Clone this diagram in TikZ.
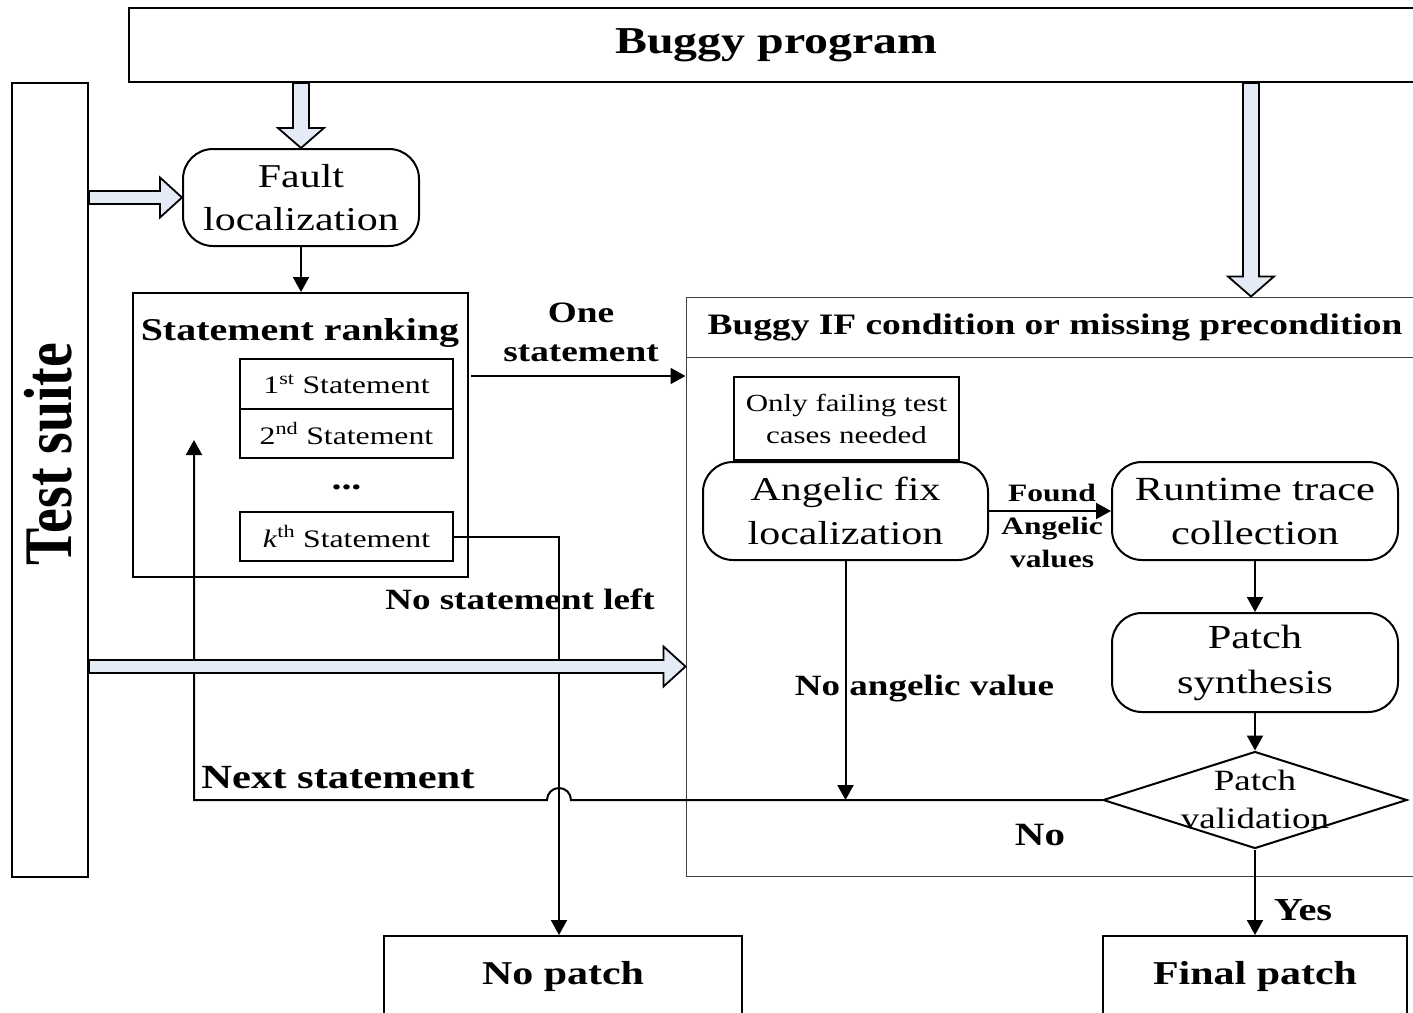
\documentclass[tikz,border=0pt]{standalone}
\usepackage{graphicx}
\usepackage{fontspec}
\setmainfont{Liberation Serif}[FakeStretch=1.26]
\newfontfamily\tsfont{Liberation Serif}
\usetikzlibrary{shapes.geometric,arrows.meta,calc}
\definecolor{blockfill}{RGB}{228,235,247}
\newcommand\fsz[2]{\fontsize{#1}{#2}\selectfont}
% hollow block arrow pointing down, from #1 to #2
\newcommand\vblockarrow[2]{\draw[blockarrow] let \p1=(#1), \p2=(#2) in
  (\x1-8pt,\y1) -- (\x1-8pt,\y2+20pt) -- (\x1-23pt,\y2+20pt) -- (\x1,\y2)
  -- (\x1+23pt,\y2+20pt) -- (\x1+8pt,\y2+20pt) -- (\x1+8pt,\y1) -- cycle;}
% hollow block arrow pointing right, from #1 to #2
\newcommand\hblockarrow[2]{\draw[blockarrow] let \p1=(#1), \p2=(#2) in
  (\x1,\y1+6.5pt) -- (\x2-22pt,\y1+6.5pt) -- (\x2-22pt,\y1+20pt) -- (\x2,\y1)
  -- (\x2-22pt,\y1-20pt) -- (\x2-22pt,\y1-6.5pt) -- (\x1,\y1-6.5pt) -- cycle;}
\begin{document}
\begin{tikzpicture}[x=1pt,y=-1pt,
  box/.style={draw, line width=2pt, rectangle, inner sep=0pt},
  rbox/.style={box, rounded corners=30pt, align=center, font=\fsz{33.3}{43}},
  bigbox/.style={draw=black!75, line width=1pt, rectangle, inner sep=0pt},
  arr/.style={line width=2pt, -{Triangle[length=15pt,width=16pt]}},
  blockarrow/.style={draw, line width=1.8pt, fill=blockfill, line join=miter},
  lbl/.style={font=\bfseries\fsz{29.6}{39}, align=center, inner sep=0pt}]
\useasboundingbox (0,0) rectangle (1413,1012);
\clip (0,0) rectangle (1413,1012);
\fill[white] (0,0) rectangle (1413,1012);

% inputs
\node[box, minimum width=1295pt, minimum height=74pt, font=\bfseries\fsz{38}{40}] (bp) at (776.5,45) {\raisebox{-2pt}{Buggy program}};
\node[box, minimum width=76pt, minimum height=794pt] (ts) at (50,480) {};
\node[rotate=90, font=\tsfont\bfseries\fsz{55.8}{58}, inner sep=0pt] (tslabel) at (48,454) {\scalebox{1}[1.22]{Test suite}};

% fault localization and ranking
\node[rbox, minimum width=236pt, minimum height=97pt] (fault) at (301,197.5) {Fault\\localization};
\node[box, minimum width=335pt, minimum height=284pt] (sr) at (300.5,435) {};
\node[lbl, font=\bfseries\fsz{31.7}{34}] (srtitle) at (300,332.5) {Statement ranking};
\node[box, minimum width=213pt, minimum height=50pt, font=\fsz{25.2}{28}] (s1) at (346.5,384) {1\textsuperscript{st} Statement};
\node[box, minimum width=213pt, minimum height=49pt, font=\fsz{25.2}{28}] (s2) at (346.5,433.5) {2\textsuperscript{nd} Statement};
\node[font=\bfseries\fsz{31.7}{34}, inner sep=0pt] (dots) at (346.5,487) {...};
\node[box, minimum width=213pt, minimum height=49pt, font=\fsz{25.2}{28}] (sk) at (346.5,536.5) {\textit{k}\textsuperscript{th} Statement};

% repair stage
\node[bigbox, minimum width=738pt, minimum height=60pt, font=\bfseries\fsz{29.7}{32}] (iftitle) at (1055,327) {Buggy IF condition or missing precondition};
\node[bigbox, minimum width=738pt, minimum height=519pt] (ifbox) at (1055,616.5) {};
\node[box, minimum width=225pt, minimum height=83pt, align=center, font=\fsz{24.6}{32}] (only) at (846.5,418.5) {Only failing test\\cases needed};
\node[rbox, minimum width=285pt, minimum height=98pt, font=\fsz{33.3}{44}] (angelic) at (845.5,511) {Angelic fix\\localization};
\node[rbox, minimum width=286pt, minimum height=98pt, font=\fsz{33.8}{44}] (runtime) at (1255,511) {Runtime trace\\collection};
\node[rbox, minimum width=286pt, minimum height=99pt, font=\fsz{33.7}{45}] (synth) at (1255,662.5) {Patch\\synthesis};
\node[diamond, draw, line width=2pt, minimum width=304pt, minimum height=97pt, inner sep=0pt] (valid) at (1255,800) {};
\node[font=\fsz{29.4}{38}, align=center, inner sep=0pt] (validtxt) at (1255,799) {Patch\\validation};

% outcomes
\node[box, minimum width=304pt, minimum height=80pt, font=\bfseries\fsz{33.3}{36}] (final) at (1255,976) {Final patch};
\node[box, minimum width=358pt, minimum height=80pt, font=\bfseries\fsz{33.3}{36}] (np) at (563,976) {No patch};

% helper points
\coordinate (onestart) at (471,376);
\coordinate (hop) at (559,800);
\coordinate (hopR) at (571,800);
\coordinate (backtip) at (194,440);
\coordinate (bpdrop) at (1251,0);
\coordinate (tsin) at (0,666.5);

% labels
\node[lbl] (onelbl) at (581,332) {One\\statement};
\node[lbl, font=\bfseries\fsz{25}{33}] (foundlbl) at (1052,526) {Found\\Angelic\\values};
\node[lbl, anchor=base, font=\bfseries\fsz{29.4}{32}] (noleft) at (520,609) {No statement left};
\node[lbl, anchor=base, font=\bfseries\fsz{33.8}{36}] (nextlbl) at (338,788) {Next statement};
\node[lbl, anchor=base, font=\bfseries\fsz{29.4}{32}] (noang) at (924.5,695) {No angelic value};
\node[lbl, anchor=base, font=\bfseries\fsz{32.5}{35}] (nolbl) at (1040,845) {No};
\node[lbl, anchor=base, font=\bfseries\fsz{32}{35}] (yeslbl) at (1303,920) {Yes};

% thin connectors
\draw[arr] (fault.south) -- (fault.south |- sr.north);
\draw[arr] (onestart) -- (onestart -| ifbox.west);
\draw[arr] (sk.east) -| (hop |- np.north);
\draw[arr] (angelic.east) -- (runtime.west);
\draw[arr] (runtime.south) -- (synth.north);
\draw[arr] (synth.south) -- (valid.north);
\draw[arr] (valid.south) -- (final.north);
\draw[arr] (angelic.south) -- (angelic.south |- valid.west);
\draw[arr] (valid.west) -- (hopR) arc[start angle=0, end angle=-180, radius=12] -- (backtip |- valid.west) -- (backtip);

% block arrows
\vblockarrow{bp.south -| fault.north}{fault.north}
\vblockarrow{bp.south -| bpdrop}{iftitle.north -| bpdrop}
\hblockarrow{ts.east |- fault.west}{fault.west}
\hblockarrow{ts.east |- tsin}{ifbox.west |- tsin}
\end{tikzpicture}
\end{document}
